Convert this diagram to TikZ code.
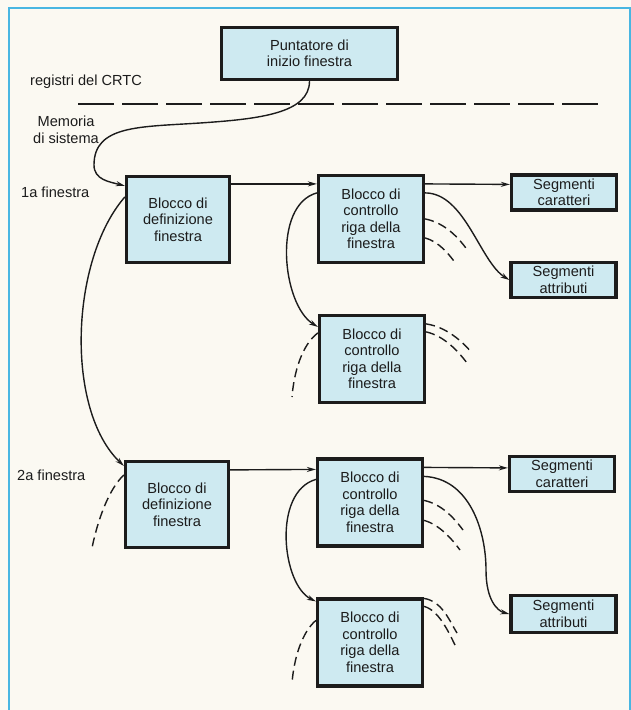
\documentclass[tikz,border=0pt]{standalone}
\usepackage{fontspec}
\setmainfont{Liberation Sans}
\usetikzlibrary{calc,arrows.meta}
\definecolor{paper}{RGB}{251,249,242}
\definecolor{boxfill}{RGB}{206,234,241}
\definecolor{framecol}{RGB}{72,182,226}
\definecolor{ink}{RGB}{28,28,28}

\begin{document}
\begin{tikzpicture}[x=1pt,y=-1pt,
  every node/.style={text=ink, font=\fontsize{14.6}{16.5}\selectfont},
  blk/.style={draw=ink, line width=3.2pt, fill=boxfill, align=center, inner sep=0pt},
  defbox/.style={blk, minimum width=103pt, minimum height=86pt},
  ctrlbox/.style={blk, minimum width=105pt, minimum height=87pt},
  segbox/.style={blk, minimum width=105pt, minimum height=35pt},
  lbl/.style={align=center, inner sep=0pt},
  conn/.style={draw=ink, line width=1.4pt},
  arr/.style={conn, -{Stealth[length=9pt,width=5pt]}},
  dconn/.style={conn, dash pattern=on 9pt off 5pt},
]
% page and frame
\fill[paper] (0,0) rectangle (631,710);
\useasboundingbox (0,0) rectangle (631,710);
\draw[framecol, line width=2pt] (9,710) -- (9,8) -- (629.5,8) -- (629.5,710);

% separator between CRTC registers and system memory
\coordinate (sepL) at (78,104);
\coordinate (sepR) at (602,104);
\draw[ink, line width=1.5pt, dash pattern=on 36pt off 8pt] (sepL) -- (sepR);

% labels
\node[lbl, anchor=west] (lreg) at (30,82) {registri del CRTC};
\node[lbl] (lmem) at (66,130) {Memoria\\di sistema};
\node[lbl, anchor=west] (lwin1) at (21,192) {1a finestra};
\node[lbl, anchor=west] (lwin2) at (17,475) {2a finestra};

% boxes
\node[blk, minimum width=176pt, minimum height=52pt] (P) at (309.5,53.5) {Puntatore di\\inizio finestra};
\node[defbox] (D1) at (178,219.5) {Blocco di\\definizione\\finestra};
\node[ctrlbox] (C1) at (371,219) {Blocco di\\controllo\\riga della\\finestra};
\node[segbox] (SC1) at (564,192.5) {Segmenti\\caratteri};
\node[segbox] (SA1) at (563.5,280) {Segmenti\\attributi};
\node[ctrlbox] (C2) at (372,359) {Blocco di\\controllo\\riga della\\finestra};
\node[defbox] (D2) at (177,504.5) {Blocco di\\definizione\\finestra};
\node[ctrlbox] (C3) at (370,502.5) {Blocco di\\controllo\\riga della\\finestra};
\node[segbox] (SC2) at (562,474) {Segmenti\\caratteri};
\node[segbox, minimum height=37pt] (SA2) at (563.5,614) {Segmenti\\attributi};
\node[ctrlbox] (C4) at (370,642.5) {Blocco di\\controllo\\riga della\\finestra};

% free ends of the dashed continuations
\coordinate (e1a) at (468,251);
\coordinate (e1b) at (456,264);
\coordinate (e2l) at (292,397);
\coordinate (e2a) at (472,353);
\coordinate (e2b) at (467,363);
\coordinate (e4l) at (92,548);
\coordinate (e3a) at (463,530);
\coordinate (e3b) at (460,550);
\coordinate (e5l) at (292,683);
\coordinate (e5a) at (457,633);
\coordinate (e5b) at (455,645);

% start pointer into the first window
\draw[arr] (P.south) .. controls +(0,32) and +(60,-4) .. (200,123)
  .. controls +(-60,4) and +(0,-40) .. (94,165)
  .. controls +(0,15) and +(-15,-4) .. ($(D1.north west)+(0,11)$);

% first window
\draw[arr] ($(D1.north east)+(0,9)$) -- ($(C1.north west)+(0,10)$);
\draw[arr] ($(C1.north east)+(0,10)$) -- ($(SC1.north west)+(0,11)$);
\draw[arr] ($(C1.north east)+(0,19)$) .. controls (465,193) and (480,262) .. (SA1.west);
\draw[dconn] ($(C1.north east)+(0,45)$) .. controls +(20,4) and +(-9,-13) .. (e1a);
\draw[dconn] ($(C1.north east)+(0,64)$) .. controls +(14,4) and +(-7,-10) .. (e1b);
\draw[arr] ($(C1.north west)+(0,19)$) .. controls (272,205) and (282,305) .. ($(C2.north west)+(0,13)$);
\draw[dconn] ($(C2.north west)+(0,19)$) .. controls +(-16,12) and +(2,-25) .. (e2l);
\draw[dconn] ($(C2.north east)+(0,10)$) .. controls +(20,3) and +(-10,-12) .. (e2a);
\draw[dconn] ($(C2.north east)+(0,18)$) .. controls +(18,4) and +(-9,-12) .. (e2b);

% link to the second window
\draw[arr] ($(D1.north west)+(0,22)$) .. controls (70,260) and (65,410) .. ($(D2.north west)+(0,6)$);
\draw[dconn] ($(D2.north west)+(0,15)$) .. controls +(-16,15) and +(5,-25) .. (e4l);

% second window
\draw[arr] ($(D2.north east)+(0,10)$) -- ($(C3.north west)+(0,12)$);
\draw[arr] ($(C3.north east)+(0,10)$) -- ($(SC2.north west)+(0,13)$);
\draw[arr] ($(C3.north east)+(0,19)$) .. controls +(45,2) and +(0,-40) .. (486,570)
  .. controls +(0,30) and +(-12,-3) .. (SA2.west);
\draw[dconn] ($(C3.north east)+(0,43)$) .. controls +(18,4) and +(-9,-12) .. (e3a);
\draw[dconn] ($(C3.north east)+(0,63)$) .. controls +(15,4) and +(-8,-11) .. (e3b);
\draw[arr] ($(C3.north west)+(0,22)$) .. controls (272,492) and (282,585) .. ($(C4.north west)+(0,4)$);
\draw[dconn] ($(C4.north west)+(0,23)$) .. controls +(-14,12) and +(2,-25) .. (e5l);
\draw[dconn] ($(C4.north east)+(0,1)$) .. controls +(18,3) and +(-8,-13) .. (e5a);
\draw[dconn] ($(C4.north east)+(0,9)$) .. controls +(15,4) and +(-6,-12) .. (e5b);
\end{tikzpicture}
\end{document}
